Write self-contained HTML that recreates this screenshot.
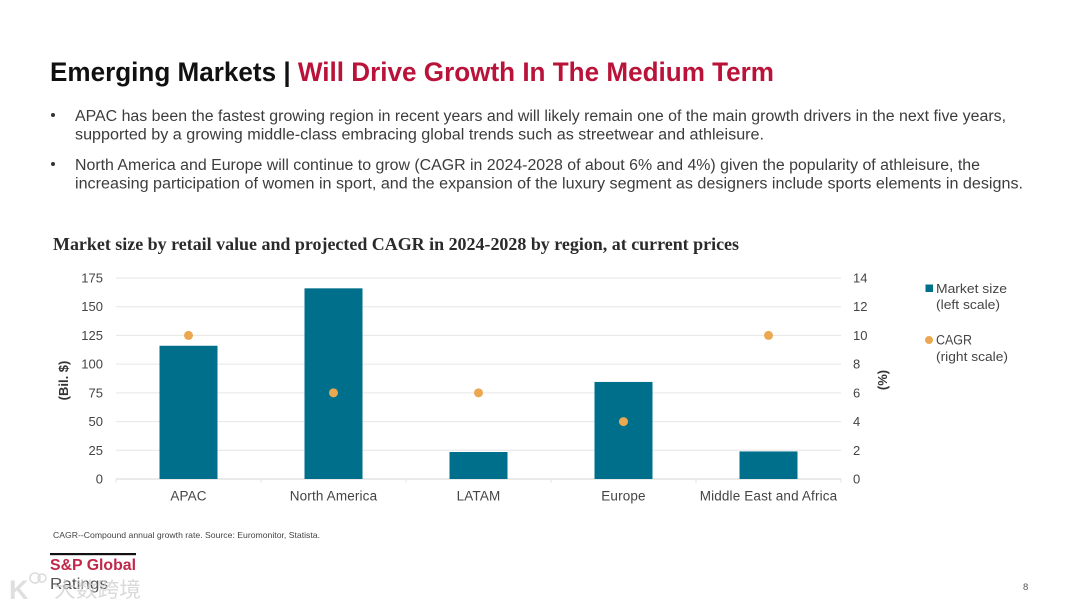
<!DOCTYPE html>
<html lang="en">
<head>
<meta charset="utf-8">
<title>Emerging Markets</title>
<style>
html,body{margin:0;padding:0;background:#fff;width:1080px;height:608px;overflow:hidden}
svg{display:block}
text{font-family:"Liberation Sans",sans-serif}
</style>
</head>
<body>
<svg id="slide" width="1080" height="608" viewBox="0 0 1080 608" xmlns="http://www.w3.org/2000/svg">
  <rect width="1080" height="608" fill="#ffffff"/>
  <text x="50" y="81" font-size="27" font-weight="700" fill="#111" textLength="724" lengthAdjust="spacingAndGlyphs">Emerging Markets | <tspan fill="#b9133a">Will Drive Growth In The Medium Term</tspan></text>

  <g font-size="15.5" fill="#3c3c3c">
    <circle cx="53" cy="115" r="2" fill="#333"/>
    <text x="75" y="121" textLength="931" lengthAdjust="spacingAndGlyphs">APAC has been the fastest growing region in recent years and will likely remain one of the main growth drivers in the next five years,</text>
    <text x="75" y="139.500" textLength="689" lengthAdjust="spacingAndGlyphs">supported by a growing middle-class embracing global trends such as streetwear and athleisure.</text>
    <circle cx="53" cy="164" r="2" fill="#333"/>
    <text x="75" y="170" textLength="905" lengthAdjust="spacingAndGlyphs">North America and Europe will continue to grow (CAGR in 2024-2028 of about 6% and 4%) given the popularity of athleisure, the</text>
    <text x="75" y="188.500" textLength="948" lengthAdjust="spacingAndGlyphs">increasing participation of women in sport, and the expansion of the luxury segment as designers include sports elements in designs.</text>
  </g>

  <text x="53" y="250" font-size="18" font-weight="700" fill="#2a2a2a" style="font-family:'Liberation Serif',serif" textLength="686" lengthAdjust="spacingAndGlyphs">Market size by retail value and projected CAGR in 2024-2028 by region, at current prices</text>

  <g id="chart"></g>

  <g font-size="13" fill="#444">
    <g>
      <rect x="925.500" y="284.500" width="7.500" height="7.500" fill="#006f8b"/>
      <text x="936" y="293" textLength="71" lengthAdjust="spacingAndGlyphs">Market size</text>
      <text x="936" y="309" textLength="64" lengthAdjust="spacingAndGlyphs">(left scale)</text>
    </g>
    <g>
      <circle cx="929" cy="340" r="4" fill="#eba850"/>
      <text x="936" y="344.500" font-size="13.500" textLength="36" lengthAdjust="spacingAndGlyphs">CAGR</text>
      <text x="936" y="361" textLength="72" lengthAdjust="spacingAndGlyphs">(right scale)</text>
    </g>
  </g>

  <text x="53" y="538" font-size="8.500" fill="#444" textLength="267" lengthAdjust="spacingAndGlyphs">CAGR--Compound annual growth rate. Source: Euromonitor, Statista.</text>

  <g>
    <rect x="50" y="553" width="86" height="2.200" fill="#111"/>
    <text x="50" y="570" font-size="16" font-weight="700" fill="#c0284a" textLength="86" lengthAdjust="spacingAndGlyphs">S&amp;P Global</text>
    <text x="50" y="589" font-size="16" fill="#555" textLength="58" lengthAdjust="spacingAndGlyphs">Ratings</text>
  </g>

  <g opacity="0.9">
    <circle cx="35" cy="578" r="5" fill="none" stroke="#d8d8d8" stroke-width="1.500"/>
    <circle cx="42" cy="578" r="4" fill="none" stroke="#d8d8d8" stroke-width="1.500"/>
    <text x="9" y="599" font-size="27" font-weight="700" fill="#dcdcdc">K</text>
    <text x="54" y="597" font-size="21" fill="#cfcfcf" opacity="0.85" style="font-family:'Liberation Sans','Noto Sans CJK SC',sans-serif" textLength="87" lengthAdjust="spacingAndGlyphs">大数跨境</text>
  </g>

  <text x="1023" y="590" font-size="9.500" fill="#555">8</text>
</svg>
<script>
var categories = ['APAC', 'North America', 'LATAM', 'Europe', 'Middle East and Africa'];
var marketSize = [116, 166, 23.5, 84.5, 24];
var cagr = [10, 6, 6, 4, 10];
var leftTicks = [0, 25, 50, 75, 100, 125, 150, 175];
var rightTicks = [0, 2, 4, 6, 8, 10, 12, 14];

var NS = 'http://www.w3.org/2000/svg';
var chart = document.getElementById('chart');
var plotLeft = 116, plotRight = 841, plotTop = 278, plotBottom = 479;
var leftMax = 175, rightMax = 14;

function yLeft(v) { return plotBottom - (v / leftMax) * (plotBottom - plotTop); }
function yRight(v) { return plotBottom - (v / rightMax) * (plotBottom - plotTop); }
function bandWidth() { return (plotRight - plotLeft) / categories.length; }
function xCenter(i) { return plotLeft + bandWidth() * (i + 0.5); }
function make(tag, attrs, text) {
  var el = document.createElementNS(NS, tag);
  for (var k in attrs) el.setAttribute(k, attrs[k]);
  if (text !== undefined) el.textContent = text;
  chart.appendChild(el);
  return el;
}

leftTicks.forEach(function (t) {
  var y = yLeft(t);
  var line = make('line', { x1: plotLeft, x2: plotRight, y1: y, y2: y, stroke: t === 0 ? '#d4d4d4' : '#e6e6e6', 'stroke-width': 1 });
  
  
  var label = make('text', { x: 103, y: y + 4.5, 'text-anchor': 'end', 'font-size': 13, fill: '#444' }, String(t));
  
  
});

rightTicks.forEach(function (t) {
  var label = make('text', { x: 853, y: yRight(t) + 4.5, 'font-size': 13, fill: '#444' }, String(t));
  
  
});

for (var s = 0; s <= categories.length; s++) {
  var sx = plotLeft + bandWidth() * s;
  var sep = make('line', { x1: sx, x2: sx, y1: plotBottom, y2: plotBottom + 4, stroke: '#e4e4e4', 'stroke-width': 1 });
  
  
}

var barWidth = 58;
marketSize.forEach(function (v, i) {
  var bar = make('rect', { x: xCenter(i) - barWidth / 2, y: yLeft(v), width: barWidth, height: plotBottom - yLeft(v), fill: '#006f8b' });
  
  
});

cagr.forEach(function (v, i) {
  var dot = make('circle', { cx: xCenter(i), cy: yRight(v), r: 4.5, fill: '#eba850' });
  
  
});

categories.forEach(function (c, i) {
  var label = make('text', { x: xCenter(i), y: 500.5, 'text-anchor': 'middle', 'font-size': 13.5, 'letter-spacing': 0.15, fill: '#444' }, c);
  
  
});

var yTitleLeft = make('text', { transform: 'translate(68 380.5) rotate(-90)', 'text-anchor': 'middle', 'font-size': 13, 'font-weight': 700, fill: '#333' }, '(Bil. $)');



var yTitleRight = make('text', { transform: 'translate(887 380) rotate(-90)', 'text-anchor': 'middle', 'font-size': 13, 'font-weight': 700, fill: '#333' }, '(%)');


</script>
</body>
</html>
